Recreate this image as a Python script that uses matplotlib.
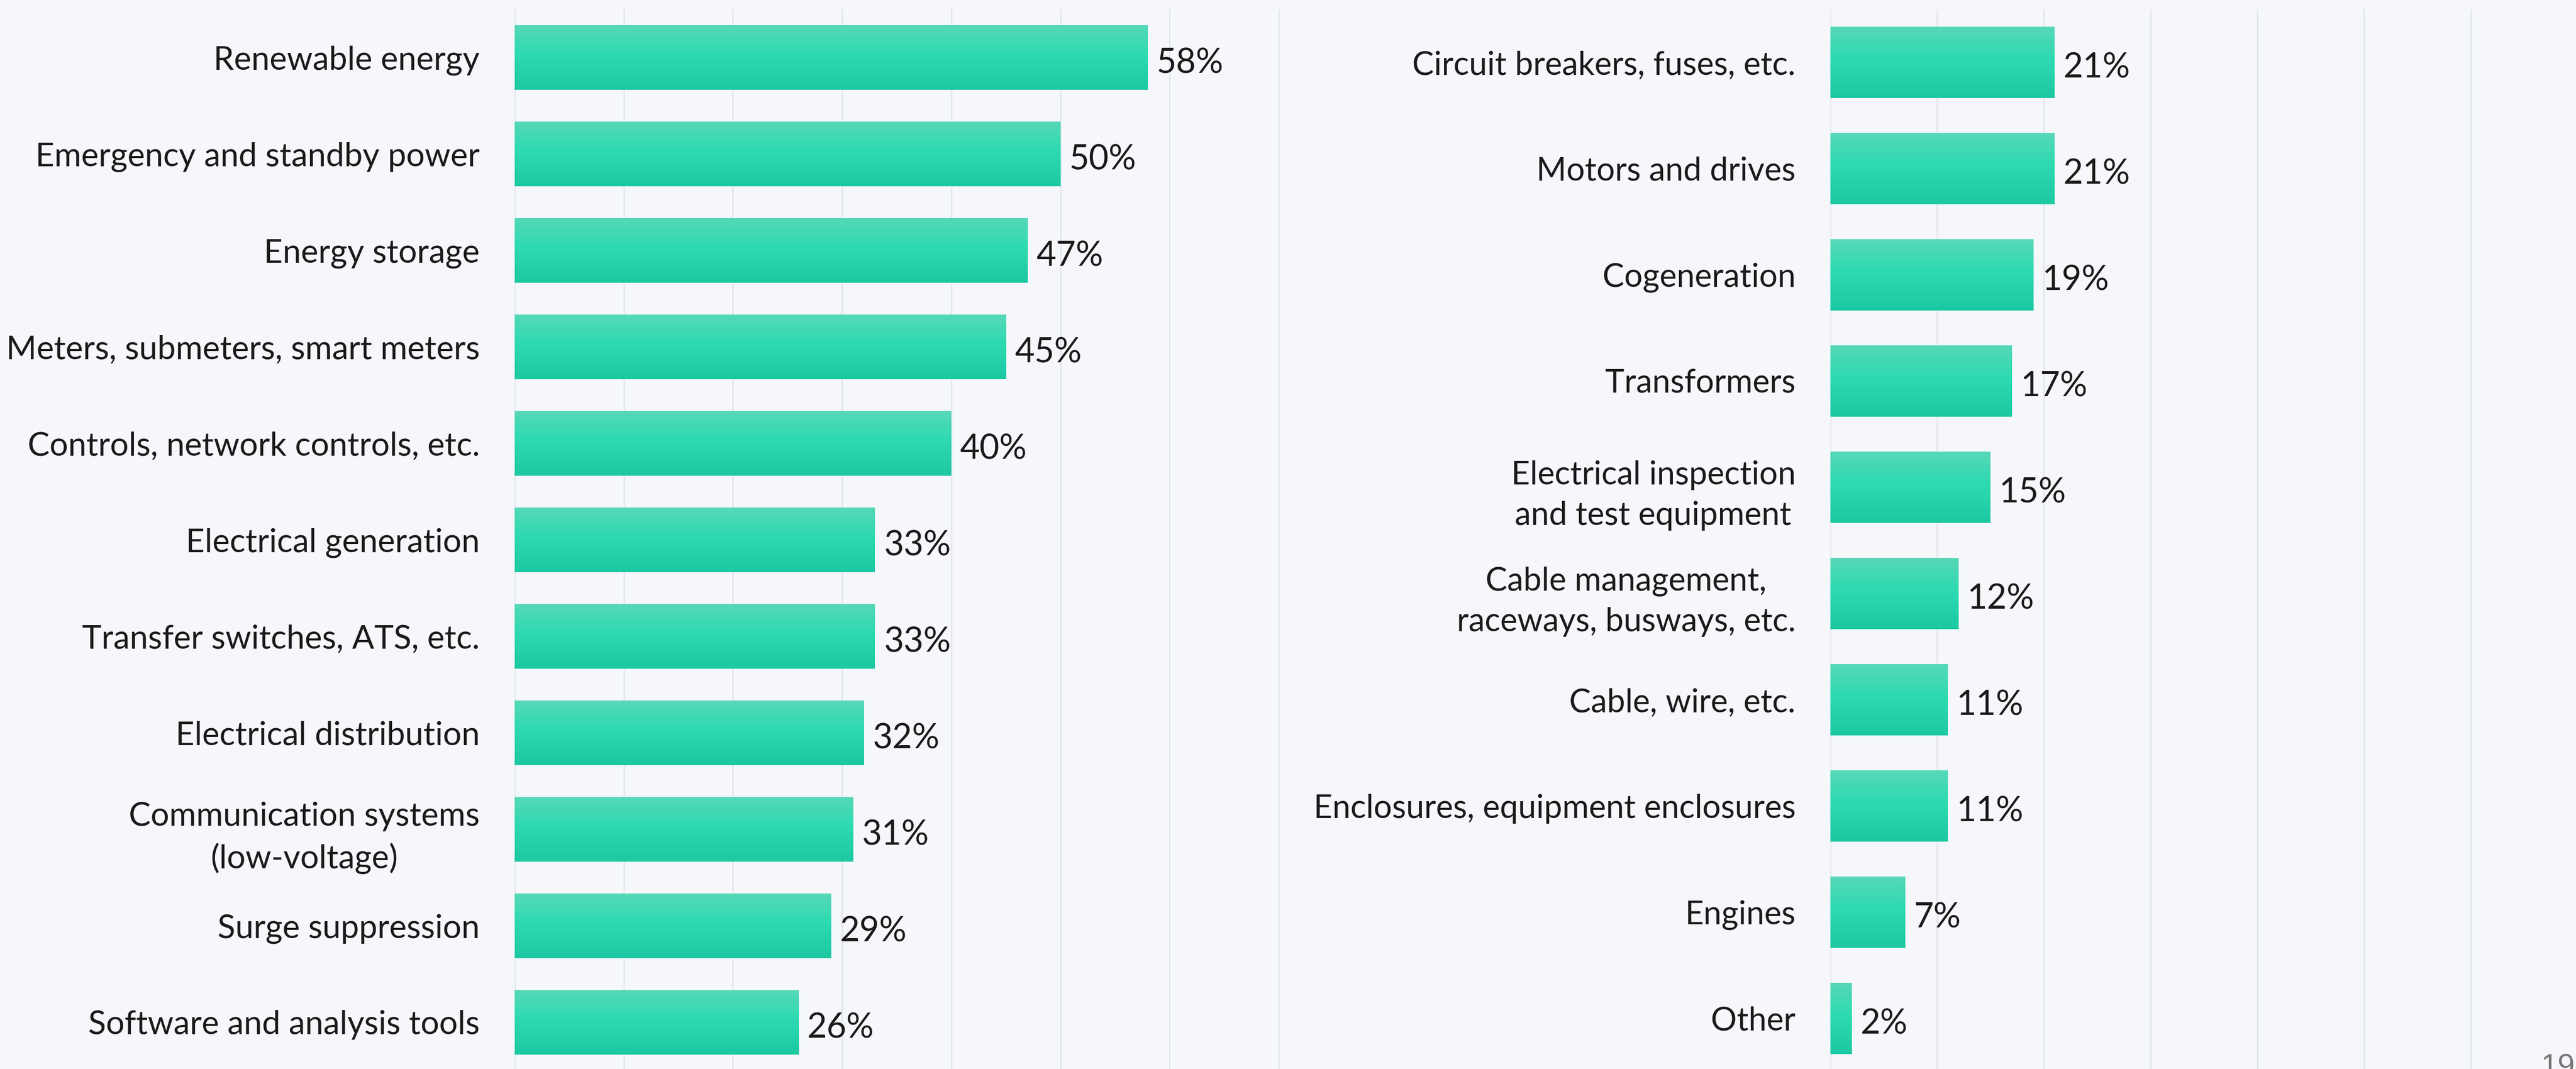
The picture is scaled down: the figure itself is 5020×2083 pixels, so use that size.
import numpy as np
import matplotlib.pyplot as plt
from matplotlib.colors import LinearSegmentedColormap
#-----------------------------------------------------------------
left_labels = ['Renewable energy', 'Emergency and standby power', 'Energy storage',
               'Meters, submeters, smart meters', 'Controls, network controls, etc.',
               'Electrical generation', 'Transfer switches, ATS, etc.',
               'Electrical distribution', 'Communication systems\n(low-voltage)',
               'Surge suppression', 'Software and analysis tools']
left_values = [58, 50, 47, 45, 40, 33, 33, 32, 31, 29, 26]

right_labels = ['Circuit breakers, fuses, etc.', 'Motors and drives', 'Cogeneration',
                'Transformers', 'Electrical inspection\nand test equipment',
                'Cable management,\nraceways, busways, etc.', 'Cable, wire, etc.',
                'Enclosures, equipment enclosures', 'Engines', 'Other']
right_values = [21, 21, 19, 17, 15, 12, 11, 11, 7, 2]

page_number = '19'
#-----------------------------------------------------------------
bg = '#F5F7FB'
text_color = '#1A1A1A'
font = ['Lato', 'DejaVu Sans']
cmap = LinearSegmentedColormap.from_list('bar', [(0, '#57D8B8'), (0.45, '#2DDAB1'), (1, '#1CC8A2')])
grad = np.linspace(0, 1, 256).reshape(-1, 1)

fig = plt.figure(figsize=(50.2, 20.83), dpi=100)
fig.patch.set_facecolor(bg)


def draw_panel(ax, labels, values, xmax, ticks, label_size):
    ax.set_facecolor(bg)
    y = np.arange(len(values))
    bars = ax.barh(y, values, height=0.67, color='#2DDAB1', zorder=2)
    for b in bars:
        x0, y0 = b.get_x(), b.get_y()
        w, h = b.get_width(), b.get_height()
        im = ax.imshow(grad, cmap=cmap, extent=(x0, x0 + w, y0 + h, y0),
                       aspect='auto', zorder=3, interpolation='bilinear')
        im.set_clip_path(b)
    for i, v in enumerate(values):
        ax.annotate(f'{v}%', xy=(v, i), xytext=(12, -8), textcoords='offset points',
                    va='center', ha='left', fontsize=48, color=text_color, family=font, zorder=4)
    ax.set_xlim(0, xmax)
    ax.set_ylim(len(values) - 0.5, -0.5)
    ax.set_xticks(ticks)
    ax.set_xticklabels([])
    ax.grid(axis='x', color='#E3E6EC', linewidth=2)
    ax.set_axisbelow(True)
    ax.set_yticks(y)
    ax.set_yticklabels(labels, fontsize=label_size, color=text_color, family=font)
    for lab in ax.get_yticklabels():
        lab.set_multialignment('center')
        lab.set_linespacing(1.45)
    ax.tick_params(axis='both', length=0, pad=49)
    for s in ax.spines.values():
        s.set_visible(False)


ax1 = fig.add_axes([0.1998, -0.0014, 0.3051, 0.9928])
draw_panel(ax1, left_labels, left_values, 72, np.arange(0, 80, 10), 46)

ax2 = fig.add_axes([0.7106, -0.0024, 0.2894, 0.99376])
draw_panel(ax2, right_labels, right_values, 69.85, np.arange(0, 70, 10), 45.5)

fig.text(0.9864, -0.0058, page_number, ha='left', va='baseline', fontsize=43,
         color='#777777', family='Liberation Sans')

fig.savefig('out.png', dpi=100, facecolor=fig.get_facecolor())
